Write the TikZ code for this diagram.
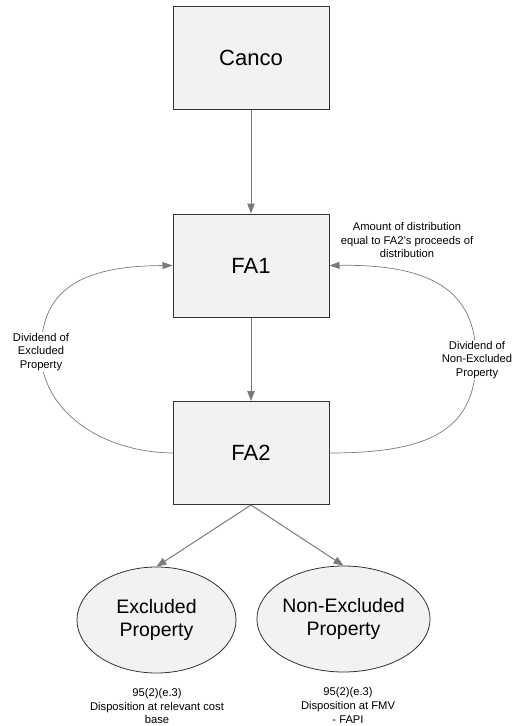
\documentclass[tikz,border=0pt]{standalone}
\usepackage{fontspec}
\setmainfont{Liberation Sans}
\usetikzlibrary{arrows.meta,shapes.geometric}
\definecolor{boxfill}{HTML}{F2F2F2}
\definecolor{boxline}{HTML}{333333}
\definecolor{linkgray}{HTML}{7A7A7A}
\begin{document}
\begin{tikzpicture}[x=1pt,y=-1pt,
  entity/.style={draw=boxline,fill=boxfill,line width=1pt,minimum width=156pt,minimum height=103pt,inner sep=0pt,font=\fontsize{22}{26}\selectfont},
  prop/.style={ellipse,draw=boxline,fill=boxfill,line width=0.8pt,minimum width=159pt,minimum height=106pt,inner sep=0pt,align=center,font=\fontsize{19.5}{23}\selectfont},
  note/.style={align=center,inner sep=1pt,font=\fontsize{11.2}{13.8}\selectfont},
  link/.style={draw=linkgray,line width=1pt,-{Triangle[length=10pt,width=7.5pt]}},
  loop/.style={draw=linkgray,line width=0.7pt,-{Triangle[length=10pt,width=7pt]}}]
\useasboundingbox (0,0) rectangle (515,726);

% companies
\node[entity] (canco) at (251,57.5) {Canco};
\node[entity] (fa1) at (251,265.5) {FA1};
\node[entity] (fa2) at (251,453) {FA2};

% property held by FA2
\node[prop] (exc) at (156.5,620) {Excluded\\Property};
\node[prop] (nonexc) at (343.5,619) {Non-Excluded\\Property};

% ownership chain
\draw[link] (canco.south) -- (fa1.north);
\draw[link] (fa1.south) -- (fa2.north);
\draw[link] (fa2.south) -- (exc.north);
\draw[link] (fa2.south) -- (nonexc.north);

% dividends paid up to FA1
\coordinate (lmid) at (41,352);
\coordinate (rmid) at (476,358);
\draw[loop] (fa2.west) .. controls (100,452) and (41,410) .. (lmid)
  .. controls (41,290) and (80,266) .. (fa1.west);
\draw[loop] (fa2.east) .. controls (430,453) and (476,430) .. (rmid)
  .. controls (476,290) and (430,264) .. (fa1.east);

\node[note,fill=white] (ldiv) at (lmid) {Dividend of\\Excluded\\Property};
\node[note,fill=white] (rdiv) at (477,360) {Dividend of\\Non-Excluded\\Property};
\node[note] (amount) at (407,240) {Amount of distribution\\equal to FA2's proceeds of\\distribution};

% tax treatment
\node[note] (exctax) at (157,706) {95(2)(e.3)\\Disposition at relevant cost\\base};
\node[note] (nonexctax) at (348,705.5) {95(2)(e.3)\\Disposition at FMV\\- FAPI};
\end{tikzpicture}
\end{document}
